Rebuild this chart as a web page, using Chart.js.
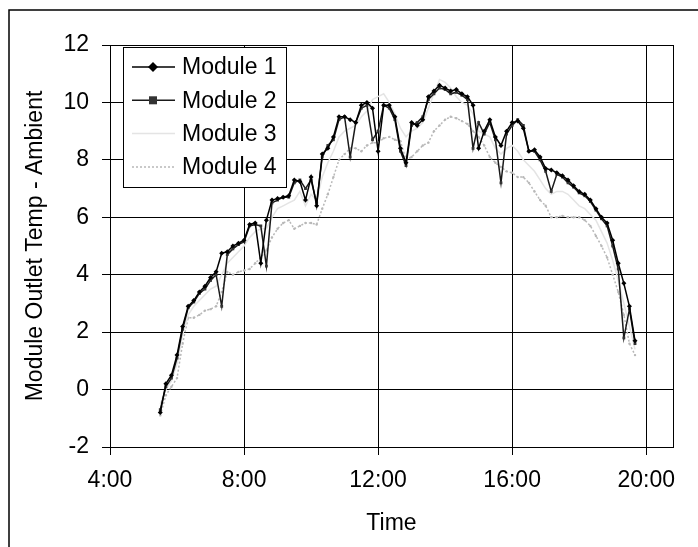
<!DOCTYPE html>
<html>
<head>
<meta charset="utf-8">
<title>Module Outlet Temp - Ambient</title>
<script src="https://cdn.jsdelivr.net/npm/chart.js@4.4.1/dist/chart.umd.min.js"></script>
<style>
    html, body { margin: 0; padding: 0; background: #fff; }
    canvas { display: block; }
</style>
</head>
<body>
<canvas id="tempChart" width="698" height="547"></canvas>
<script>
// readings every 10 minutes, values in degrees above ambient
const times = [
    "5:30", "5:40", "5:50",
    "6:00", "6:10", "6:20", "6:30", "6:40", "6:50",
    "7:00", "7:10", "7:20", "7:30", "7:40", "7:50",
    "8:00", "8:10", "8:20", "8:30", "8:40", "8:50",
    "9:00", "9:10", "9:20", "9:30", "9:40", "9:50",
    "10:00", "10:10", "10:20", "10:30", "10:40", "10:50",
    "11:00", "11:10", "11:20", "11:30", "11:40", "11:50",
    "12:00", "12:10", "12:20", "12:30", "12:40", "12:50",
    "13:00", "13:10", "13:20", "13:30", "13:40", "13:50",
    "14:00", "14:10", "14:20", "14:30", "14:40", "14:50",
    "15:00", "15:10", "15:20", "15:30", "15:40", "15:50",
    "16:00", "16:10", "16:20", "16:30", "16:40", "16:50",
    "17:00", "17:10", "17:20", "17:30", "17:40", "17:50",
    "18:00", "18:10", "18:20", "18:30", "18:40", "18:50",
    "19:00", "19:10", "19:20", "19:30", "19:40"
];

const module1 = [
    -0.8, 0.2, 0.5,
    1.2, 2.2, 2.9, 3.1, 3.4, 3.6,
    3.9, 4.1, 4.75, 4.8, 5.0, 5.1,
    5.2, 5.75, 5.8, 4.4, 5.9, 6.6,
    6.65, 6.7, 6.75, 7.3, 7.25, 6.6,
    7.4, 6.4, 8.2, 8.4, 8.8, 9.5,
    9.5, 9.4, 9.3, 9.9, 10.0, 9.8,
    8.3, 9.9, 9.9, 9.5, 8.4, 7.9,
    9.3, 9.2, 9.4, 10.2, 10.4, 10.6,
    10.5, 10.4, 10.45, 10.3, 10.2, 9.9,
    8.4, 9.0, 9.4, 8.8, 8.5, 9.0,
    9.3, 9.35, 9.1, 8.3, 8.35, 8.1,
    7.7, 7.65, 7.55, 7.45, 7.3, 7.1,
    6.9, 6.8, 6.6, 6.3, 6.0, 5.8,
    5.2, 4.4, 3.7, 2.9, 1.7
];

const module2 = [
    -0.7, 0.1, 0.4,
    1.1, 2.1, 2.85, 3.05, 3.35, 3.5,
    3.8, 4.0, 2.9, 4.7, 4.9, 5.05,
    5.15, 5.7, 5.75, 5.7, 4.3, 6.5,
    6.6, 6.7, 6.7, 7.2, 7.3, 7.0,
    7.3, 6.5, 8.1, 8.5, 8.7, 9.4,
    9.5, 8.1, 9.3, 9.8, 9.9, 8.7,
    9.0, 9.9, 9.8, 9.4, 8.3, 7.8,
    9.2, 9.3, 9.5, 10.1, 10.3, 10.5,
    10.45, 10.3, 10.35, 10.25, 10.1, 8.4,
    9.3, 8.9, 9.3, 8.7, 7.2, 8.9,
    9.2, 9.4, 9.2, 8.3, 8.3, 8.0,
    7.6, 6.9, 7.5, 7.4, 7.2, 7.05,
    6.85, 6.75, 6.55, 6.25, 5.95, 5.7,
    5.0, 4.2, 1.8, 2.8, 1.6
];

const module3 = [
    -0.5, 0.0, 0.3,
    0.9, 1.9, 2.6, 2.9, 3.1, 3.3,
    3.5, 3.6, 4.0, 4.4, 4.6, 4.8,
    5.0, 5.3, 5.5, 5.6, 5.6, 6.0,
    6.3, 6.4, 6.5, 6.6, 6.9, 6.4,
    6.8, 6.6, 7.4, 7.9, 8.3, 8.8,
    9.0, 9.1, 9.2, 9.5, 9.7, 10.1,
    10.2, 10.3, 10.0, 9.6, 9.1, 8.8,
    9.0, 9.1, 9.3, 9.8, 10.3, 10.8,
    10.7, 10.5, 10.2, 10.0, 9.9, 9.6,
    9.0, 8.9, 8.8, 8.4, 8.2, 8.4,
    8.5, 8.3, 8.0, 7.8, 7.6, 7.3,
    7.0, 6.8, 6.9, 6.9, 6.8, 6.6,
    6.4, 6.3, 6.1, 5.9, 5.5, 5.1,
    4.5, 3.8, 3.0, 2.2, 1.4
];

const module4 = [
    -0.9, -0.2, 0.1,
    0.4, 1.6, 2.5, 2.5, 2.6, 2.75,
    2.8, 2.9, 3.4, 4.1, 4.0, 4.1,
    4.15, 4.2, 4.4, 4.6, 4.85, 5.3,
    5.6, 5.8, 5.9, 5.6, 5.7, 5.8,
    5.8, 5.75, 6.3, 6.8, 7.4, 8.0,
    8.2, 8.4, 8.4, 8.3, 8.5, 8.6,
    8.6, 8.75, 8.8, 8.7, 8.65, 8.0,
    8.1, 8.3, 8.5, 8.6, 9.0, 9.2,
    9.4, 9.5, 9.45, 9.35, 9.25, 9.0,
    8.8, 8.5, 8.1, 7.9, 7.75, 7.6,
    7.55, 7.4, 7.4, 7.2, 6.9, 6.6,
    6.4, 6.0, 6.0, 6.05, 6.0, 6.0,
    6.0, 5.9, 5.7, 5.35, 5.0, 4.6,
    4.0, 3.4, 2.6, 1.6, 1.2
];

const seriesNames = ["Module 1", "Module 2", "Module 3", "Module 4"];
const yTicks = [-2, 0, 2, 4, 6, 8, 10, 12];
const xTicks = [4, 8, 12, 16, 20];

const toHours = (s) => {
    const [h, m] = s.split(":").map(Number);
    return h + m / 60;
};
const toPoints = (values) => values.map((v, i) => ({ x: toHours(times[i]), y: v }));

Chart.defaults.font.family = "'Liberation Sans', Arial, sans-serif";
Chart.defaults.font.size = 23;
Chart.defaults.color = "#000";

// page frame, plot border and the boxed legend inside the plot
const frame = {
    id: "frame",
    beforeDraw(chart) {
        const ctx = chart.ctx;
        ctx.save();
        ctx.fillStyle = "#fff";
        ctx.fillRect(0, 0, chart.width, chart.height);
        ctx.strokeStyle = "#000";
        ctx.lineWidth = 1.5;
        ctx.beginPath();
        ctx.moveTo(9, chart.height);
        ctx.lineTo(9, 10);
        ctx.lineTo(chart.width, 10);
        ctx.stroke();
        ctx.restore();
    },
    afterDatasetsDraw(chart) {
        const ctx = chart.ctx;
        const a = chart.chartArea;
        ctx.save();
        ctx.strokeStyle = "#000";
        ctx.lineWidth = 1;
        ctx.strokeRect(a.left + 0.5, a.top + 0.5, a.right - a.left, a.bottom - a.top);

        const x0 = a.left + 13;
        const y0 = a.top + 2;
        ctx.fillStyle = "#fff";
        ctx.fillRect(x0, y0, 163, 140);
        ctx.strokeRect(x0 + 0.5, y0 + 0.5, 163, 140);

        ctx.font = "23px 'Liberation Sans', Arial, sans-serif";
        ctx.textBaseline = "middle";
        ctx.textAlign = "left";
        chart.data.datasets.forEach((ds, i) => {
            const cy = y0 + 20 + i * 33.3;
            ctx.strokeStyle = ds.borderColor;
            ctx.lineWidth = ds.borderWidth;
            ctx.setLineDash(ds.borderDash || []);
            ctx.beginPath();
            ctx.moveTo(x0 + 9, cy);
            ctx.lineTo(x0 + 52, cy);
            ctx.stroke();
            ctx.setLineDash([]);
            const mx = x0 + 30;
            ctx.fillStyle = ds.pointBackgroundColor;
            if (ds.pointStyle === "rectRot") {
                ctx.beginPath();
                ctx.moveTo(mx, cy - 5);
                ctx.lineTo(mx + 5, cy);
                ctx.lineTo(mx, cy + 5);
                ctx.lineTo(mx - 5, cy);
                ctx.closePath();
                ctx.fill();
            } else if (ds.pointStyle === "rect") {
                ctx.fillRect(mx - 4, cy - 4, 8, 8);
            }
            ctx.fillStyle = "#000";
            ctx.fillText(ds.label, x0 + 59, cy + 1);
        });
        ctx.restore();
    }
};

new Chart(document.getElementById("tempChart"), {
    type: "line",
    data: {
        datasets: [
            {
                label: seriesNames[0],
                data: toPoints(module1),
                borderColor: "#000",
                borderWidth: 1.5,
                pointStyle: "rectRot",
                pointRadius: 2.5,
                pointBackgroundColor: "#000",
                pointBorderWidth: 0
            },
            {
                label: seriesNames[1],
                data: toPoints(module2),
                borderColor: "#1a1a1a",
                borderWidth: 1.5,
                pointStyle: "rect",
                pointRadius: 2,
                pointBackgroundColor: "#333",
                pointBorderWidth: 0
            },
            {
                label: seriesNames[2],
                data: toPoints(module3),
                borderColor: "#e4e4e4",
                borderWidth: 1.5,
                pointStyle: "circle",
                pointRadius: 0,
                pointBackgroundColor: "#e4e4e4"
            },
            {
                label: seriesNames[3],
                data: toPoints(module4),
                borderColor: "#b8b8b8",
                borderWidth: 1.5,
                borderDash: [2, 2],
                pointStyle: "circle",
                pointRadius: 1.2,
                pointBackgroundColor: "#b8b8b8",
                pointBorderWidth: 0
            }
        ]
    },
    options: {
        responsive: false,
        animation: false,
        devicePixelRatio: 1,
        layout: { padding: { left: 0, top: 45, right: 25, bottom: 0 } },
        plugins: {
            legend: { display: false },
            tooltip: { enabled: false }
        },
        scales: {
            x: {
                type: "linear",
                min: 4,
                max: 20.8,
                afterFit: (scale) => { scale.height = 100; },
                afterBuildTicks: (scale) => {
                    scale.ticks = xTicks.map((v) => ({ value: v }));
                },
                ticks: {
                    padding: 12,
                    maxRotation: 0,
                    callback: (v) => v + ":00"
                },
                grid: { color: "#000", lineWidth: 1, tickLength: 8 },
                border: { color: "#000", width: 1 },
                title: {
                    display: true,
                    text: "Time",
                    padding: { top: 0, bottom: 10 }
                }
            },
            y: {
                min: -2,
                max: 12,
                afterFit: (scale) => { scale.width = 110; },
                afterBuildTicks: (scale) => {
                    scale.ticks = yTicks.map((v) => ({ value: v }));
                },
                ticks: { padding: 13 },
                grid: { color: "#000", lineWidth: 1, tickLength: 8 },
                border: { color: "#000", width: 1 },
                title: {
                    display: true,
                    text: "Module Outlet Temp - Ambient",
                    padding: { top: 22, bottom: 0 }
                }
            }
        }
    },
    plugins: [frame]
});
</script>
</body>
</html>
